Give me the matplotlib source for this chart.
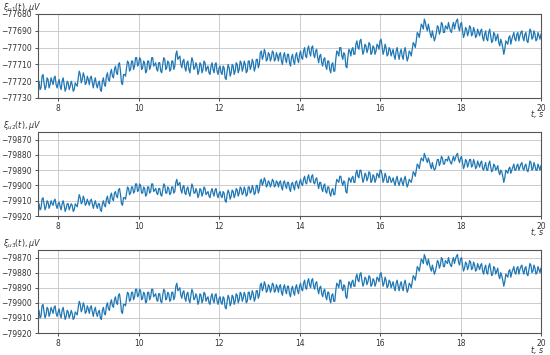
import numpy as np
import matplotlib.pyplot as plt

# time axis: 7.5 s .. 20 s, one reading every 0.025 s
t_start, t_stop = 7.5, 20.0

# channel 1, deviation from -77700 uV
u1_base = -77700
u1_dev = [
    -20, -20, -25, -24, -17, -16, -21, -25, -23, -18, -19, -24, -22, -18, -20, -22, -18, -17, -22, -24,
    -21, -19, -23, -25, -20, -18, -22, -26, -24, -20, -21, -25, -23, -20, -22, -26, -25, -21, -22, -23,
    -18, -14, -16, -21, -19, -15, -17, -22, -21, -17, -19, -22, -18, -17, -21, -24, -20, -18, -22, -24,
    -21, -20, -25, -26, -20, -18, -22, -23, -17, -15, -19, -20, -15, -13, -17, -18, -13, -11, -15, -16,
    -10, -9, -14, -21, -22, -16, -16, -17, -12, -8, -9, -14, -13, -8, -8, -13, -11, -6, -6, -11,
    -10, -6, -7, -13, -12, -8, -9, -15, -14, -8, -8, -13, -11, -6, -6, -11, -10, -9, -13, -14,
    -9, -9, -14, -15, -10, -6, -7, -13, -12, -8, -9, -14, -13, -8, -8, -13, -11, -4, -2, -7,
    -6, -5, -10, -12, -8, -7, -12, -14, -9, -8, -13, -15, -10, -6, -8, -13, -12, -9, -11, -16,
    -14, -9, -10, -15, -13, -8, -9, -14, -12, -11, -15, -16, -11, -9, -13, -15, -10, -9, -14, -16,
    -12, -11, -15, -16, -11, -12, -18, -19, -14, -10, -12, -17, -15, -10, -11, -16, -14, -9, -10, -15,
    -13, -8, -9, -14, -12, -8, -10, -15, -14, -8, -8, -13, -11, -7, -9, -14, -12, -7, -7, -12,
    -10, -3, -2, -7, -5, -1, -3, -8, -7, -3, -4, -8, -6, -2, -3, -8, -7, -3, -5, -8,
    -4, -3, -8, -10, -5, -3, -7, -9, -4, -4, -9, -11, -6, -4, -8, -10, -5, -3, -7, -9,
    -4, -2, -6, -7, -2, 0, -5, -6, -1, 1, -3, -5, 0, 1, -4, -6, -2, -1, -6, -9,
    -5, -4, -9, -11, -7, -6, -11, -13, -8, -8, -13, -15, -10, -9, -14, -14, -7, -2, -3, -5,
    0, 0, -5, -7, -3, -4, -11, -12, -6, -1, -2, -5, -1, 0, -4, -4, 2, 4, 0, -1,
    4, 5, 0, -4, -2, 2, 1, -3, -1, 3, 2, -4, -3, 1, 0, -4, -2, 2, 1, -1,
    4, 5, 1, -4, -2, 2, 0, -5, -4, 0, -1, -5, -3, -1, -5, -7, -2, 0, -4, -7,
    -3, -1, -5, -7, -2, 0, -4, -8, -6, -2, -3, -5, -1, 3, 2, 0, 4, 9, 8, 6,
    10, 14, 13, 11, 17, 15, 12, 10, 14, 11, 8, 6, 10, 7, 4, 6, 9, 13, 12, 8,
    10, 15, 14, 9, 9, 13, 12, 11, 15, 12, 10, 9, 13, 15, 11, 14, 16, 17, 12, 10,
    14, 15, 10, 6, 8, 12, 11, 7, 9, 13, 12, 7, 8, 12, 10, 6, 7, 11, 9, 7,
    10, 11, 6, 4, 8, 10, 5, 4, 9, 11, 7, 3, 4, 9, 8, 4, 6, 8, 3, 1,
    5, 3, 0, -4, -1, 4, 3, 2, 6, 7, 2, 5, 7, 9, 5, 4, 8, 9, 4, 7,
    9, 10, 6, 4, 8, 9, 4, 3, 7, 11, 10, 5, 6, 10, 8, 4, 5, 9, 7, 5,
    8,
]

# channel 2, deviation from -79894 uV
u2_base = -79894
u2_dev = [
    -18, -18, -22, -21, -15, -14, -18, -22, -20, -16, -17, -21, -19, -16, -18, -19, -16, -15, -19, -21,
    -18, -17, -20, -22, -18, -16, -19, -23, -21, -18, -18, -22, -20, -18, -19, -23, -22, -18, -19, -20,
    -16, -12, -14, -18, -17, -13, -15, -19, -18, -15, -17, -19, -16, -15, -18, -21, -18, -16, -19, -21,
    -18, -18, -22, -23, -18, -16, -19, -20, -15, -13, -17, -18, -13, -11, -15, -16, -11, -10, -13, -14,
    -9, -8, -12, -18, -19, -14, -14, -15, -11, -7, -8, -12, -11, -7, -7, -11, -10, -5, -5, -10,
    -9, -5, -6, -11, -11, -7, -8, -13, -12, -7, -7, -11, -10, -5, -5, -10, -9, -8, -11, -12,
    -8, -8, -12, -13, -9, -5, -6, -11, -11, -7, -8, -12, -11, -7, -7, -11, -10, -4, -2, -6,
    -5, -4, -9, -11, -7, -6, -11, -12, -8, -7, -11, -13, -9, -5, -7, -11, -11, -8, -10, -14,
    -12, -8, -9, -13, -11, -7, -8, -12, -11, -10, -13, -14, -10, -8, -11, -13, -9, -8, -12, -14,
    -11, -10, -13, -14, -10, -11, -16, -17, -12, -9, -11, -15, -13, -9, -10, -14, -12, -8, -9, -13,
    -11, -7, -8, -12, -11, -7, -9, -13, -12, -7, -7, -11, -10, -6, -8, -12, -11, -6, -6, -11,
    -9, -3, -2, -6, -4, -1, -3, -7, -6, -3, -4, -7, -5, -2, -3, -7, -6, -3, -4, -7,
    -4, -3, -7, -9, -4, -3, -6, -8, -4, -4, -8, -10, -5, -4, -7, -9, -4, -3, -6, -8,
    -4, -2, -5, -6, -2, 0, -4, -5, -1, 1, -3, -4, 0, 1, -4, -5, -2, -1, -5, -8,
    -4, -4, -8, -10, -6, -5, -10, -11, -7, -7, -11, -13, -9, -8, -12, -12, -6, -2, -3, -4,
    0, 0, -4, -6, -3, -4, -10, -11, -5, -1, -2, -4, -1, 0, -4, -4, 2, 4, 0, -1,
    4, 4, 0, -4, -2, 2, 1, -3, -1, 3, 2, -4, -3, 1, 0, -4, -2, 2, 1, -1,
    4, 4, 1, -4, -2, 2, 0, -4, -4, 0, -1, -4, -3, -1, -4, -6, -2, 0, -4, -6,
    -3, -1, -4, -6, -2, 0, -4, -7, -5, -2, -3, -4, -1, 3, 2, 0, 4, 8, 7, 5,
    9, 12, 11, 10, 15, 13, 11, 9, 12, 10, 7, 5, 9, 6, 4, 5, 8, 11, 11, 7,
    9, 13, 12, 8, 8, 11, 11, 10, 13, 11, 9, 8, 11, 13, 10, 12, 14, 15, 11, 9,
    12, 13, 9, 5, 7, 11, 10, 6, 8, 11, 11, 6, 7, 11, 9, 5, 6, 10, 8, 6,
    9, 10, 5, 4, 7, 9, 4, 4, 8, 10, 6, 3, 4, 8, 7, 4, 5, 7, 3, 1,
    4, 3, 0, -4, -1, 4, 3, 2, 5, 6, 2, 4, 6, 8, 4, 4, 7, 8, 4, 6,
    8, 9, 5, 4, 7, 8, 4, 3, 6, 10, 9, 4, 5, 9, 7, 4, 4, 8, 6, 4,
    7,
]

# channel 3, deviation from -79885 uV
u3_base = -79885
u3_dev = [
    -20, -20, -25, -24, -17, -16, -21, -25, -23, -18, -19, -24, -22, -18, -20, -22, -18, -17, -22, -24,
    -21, -19, -23, -25, -20, -18, -22, -26, -24, -20, -21, -25, -23, -20, -22, -26, -25, -21, -22, -23,
    -18, -14, -16, -21, -19, -15, -17, -22, -21, -17, -19, -22, -18, -17, -21, -24, -20, -18, -22, -24,
    -21, -20, -25, -26, -20, -18, -22, -23, -17, -15, -19, -20, -15, -13, -17, -18, -13, -11, -15, -16,
    -10, -9, -14, -21, -22, -16, -16, -17, -12, -8, -9, -14, -13, -8, -8, -13, -11, -6, -6, -11,
    -10, -6, -7, -13, -12, -8, -9, -15, -14, -8, -8, -13, -11, -6, -6, -11, -10, -9, -13, -14,
    -9, -9, -14, -15, -10, -6, -7, -13, -12, -8, -9, -14, -13, -8, -8, -13, -11, -4, -2, -7,
    -6, -5, -10, -12, -8, -7, -12, -14, -9, -8, -13, -15, -10, -6, -8, -13, -12, -9, -11, -16,
    -14, -9, -10, -15, -13, -8, -9, -14, -12, -11, -15, -16, -11, -9, -13, -15, -10, -9, -14, -16,
    -12, -11, -15, -16, -11, -12, -18, -19, -14, -10, -12, -17, -15, -10, -11, -16, -14, -9, -10, -15,
    -13, -8, -9, -14, -12, -8, -10, -15, -14, -8, -8, -13, -11, -7, -9, -14, -12, -7, -7, -12,
    -10, -3, -2, -7, -5, -1, -3, -8, -7, -3, -4, -8, -6, -2, -3, -8, -7, -3, -5, -8,
    -4, -3, -8, -10, -5, -3, -7, -9, -4, -4, -9, -11, -6, -4, -8, -10, -5, -3, -7, -9,
    -4, -2, -6, -7, -2, 0, -5, -6, -1, 1, -3, -5, 0, 1, -4, -6, -2, -1, -6, -9,
    -5, -4, -9, -11, -7, -6, -11, -13, -8, -8, -13, -15, -10, -9, -14, -14, -7, -2, -3, -5,
    0, 0, -5, -7, -3, -4, -11, -12, -6, -1, -2, -5, -1, 0, -4, -4, 2, 4, 0, -1,
    4, 5, 0, -4, -2, 2, 1, -3, -1, 3, 2, -4, -3, 1, 0, -4, -2, 2, 1, -1,
    4, 5, 1, -4, -2, 2, 0, -5, -4, 0, -1, -5, -3, -1, -5, -7, -2, 0, -4, -7,
    -3, -1, -5, -7, -2, 0, -4, -8, -6, -2, -3, -5, -1, 3, 2, 0, 4, 9, 8, 6,
    10, 14, 13, 11, 17, 15, 12, 10, 14, 11, 8, 6, 10, 7, 4, 6, 9, 13, 12, 8,
    10, 15, 14, 9, 9, 13, 12, 11, 15, 12, 10, 9, 13, 15, 11, 14, 16, 17, 12, 10,
    14, 15, 10, 6, 8, 12, 11, 7, 9, 13, 12, 7, 8, 12, 10, 6, 7, 11, 9, 7,
    10, 11, 6, 4, 8, 10, 5, 4, 9, 11, 7, 3, 4, 9, 8, 4, 6, 8, 3, 1,
    5, 3, 0, -4, -1, 4, 3, 2, 6, 7, 2, 5, 7, 9, 5, 4, 8, 9, 4, 7,
    9, 10, 6, 4, 8, 9, 4, 3, 7, 11, 10, 5, 6, 10, 8, 4, 5, 9, 7, 5,
    8,
]

labels = [r'$\xi_{u1}(t), \mu V$', r'$\xi_{u2}(t), \mu V$', r'$\xi_{u3}(t), \mu V$']
ylims = [(-77730, -77680), (-79920, -79865), (-79920, -79865)]
yticks = [np.arange(-77730, -77679, 10), np.arange(-79920, -79869, 10), np.arange(-79920, -79869, 10)]
xticks = [8, 10, 12, 14, 16, 18, 20]

t = np.linspace(t_start, t_stop, len(u1_dev))
series = [np.array(u1_dev) + u1_base, np.array(u2_dev) + u2_base, np.array(u3_dev) + u3_base]

W, H = 550, 355
fig = plt.figure(figsize=(W / 100, H / 100), dpi=100)
# axes boxes in pixels: left, top, right, bottom
boxes = [(38, 14, 541, 98), (38, 132, 541, 216), (38, 250, 541, 333)]

for i in range(3):
    l, tp, r, b = boxes[i]
    ax = fig.add_axes([l / W, 1 - b / H, (r - l) / W, (b - tp) / H])
    ax.plot(t, series[i], color='#1f77b4', lw=0.9)
    ax.set_xlim(t_start, t_stop)
    ax.set_ylim(*ylims[i])
    ax.set_xticks(xticks)
    ax.set_yticks(yticks[i])
    ax.grid(True, color='#cccccc', lw=0.7)
    ax.tick_params(labelsize=5.5, length=2.5, width=0.6, colors='#333333', pad=2)
    for s in ax.spines.values():
        s.set_color('#555555')
        s.set_linewidth(0.8)
    fig.text(3 / W, 1 - (tp - 7) / H, labels[i], fontsize=5.8, va='center', ha='left', color='#333333')
    fig.text((r + 3) / W, 1 - (b + 16.5) / H, r'$t$, s', fontsize=5.8, va='center', ha='right',
             color='#333333', style='italic')

fig.savefig('out.png', dpi=100)
